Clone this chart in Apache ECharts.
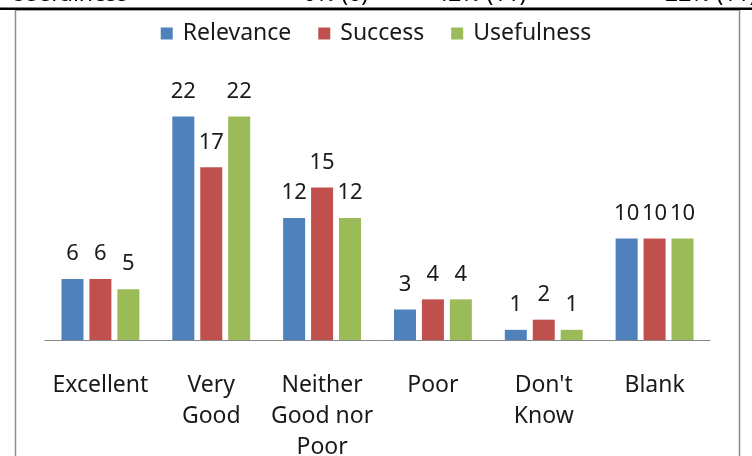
<!DOCTYPE html>
<html lang="en">
<head>
    <meta charset="UTF-8">
    <script src="https://cdn.jsdelivr.net/npm/echarts@6/dist/echarts.min.js"></script>
    <title>Ratings</title>
    <style>
        html,body{
            height:100%;
            width:100%;
            margin:0;
            padding:0;
            background:#fff;
        }
    </style>
</head>
<body>
    <div id="main" style="width:752px;height:456px"></div>
    <script>
        // data
        var categories = ['Excellent', 'Very\nGood', 'Neither\nGood nor\nPoor', 'Poor', "Don't\nKnow", 'Blank'];
        var relevance = [6, 22, 12, 3, 1, 10];
        var success = [6, 17, 15, 4, 2, 10];
        var usefulness = [5, 22, 12, 4, 1, 10];
        var seriesNames = ['Relevance', 'Success', 'Usefulness'];
        var colors = ['#4F81BD', '#C0504D', '#9BBB59'];
        // table row cut off above the chart
        var headerRow = [['Usefulness', 10], ['0% (0)', 303], ['42% (11)', 435], ['22% (11)', 665]];

        var font = "'Noto Sans', sans-serif";
        let myChart = echarts.init(document.getElementById('main'));

        var graphics = [
            { type: 'rect', shape: { x: 15.5, y: 10, width: 724, height: 480 }, style: { fill: null, stroke: '#8c8c8c', lineWidth: 1.5 } }
        ];
        headerRow.forEach(function (h) {
            graphics.push({
                type: 'text', x: h[1], y: 6,
                style: { text: h[0], font: '23px ' + font, fill: '#000', verticalAlign: 'bottom' }
            });
        });
        graphics.push({ type: 'line', shape: { x1: 0, y1: 8.8, x2: 752, y2: 8.8 }, style: { stroke: '#000', lineWidth: 2.5 } });

        function bar(name, data, i) {
            return {
                name: name,
                type: 'bar',
                data: data,
                barWidth: 22,
                barGap: '27%',
                itemStyle: { color: colors[i] },
                label: {
                    show: true,
                    position: 'top',
                    distance: 14,
                    fontFamily: font,
                    fontSize: 22,
                    color: '#1a1a1a'
                }
            };
        }

        var option = {
            animation: false,
            legend: {
                data: seriesNames,
                top: 17,
                left: 'center',
                itemWidth: 12,
                itemHeight: 12,
                itemGap: 27,
                icon: 'rect',
                textStyle: { fontFamily: font, fontSize: 23, color: '#1a1a1a', padding: [0, 0, 0, 5] }
            },
            grid: { left: 45, right: 42, top: 86, bottom: 116, outerBoundsMode: 'none' },
            xAxis: {
                type: 'category',
                data: categories,
                axisLine: { lineStyle: { color: '#868686', width: 1 } },
                axisTick: { show: false },
                axisLabel: {
                    interval: 0,
                    margin: 30,
                    fontFamily: font,
                    fontSize: 23,
                    lineHeight: 31,
                    color: '#1a1a1a',
                    verticalAlign: 'top'
                }
            },
            yAxis: {
                type: 'value',
                min: 0,
                max: 25,
                show: false,
                splitLine: { show: false }
            },
            graphic: graphics,
            series: [
                bar(seriesNames[0], relevance, 0),
                bar(seriesNames[1], success, 1),
                bar(seriesNames[2], usefulness, 2)
            ]
        };

        myChart.setOption(option);
    </script>
</body>
</html>
